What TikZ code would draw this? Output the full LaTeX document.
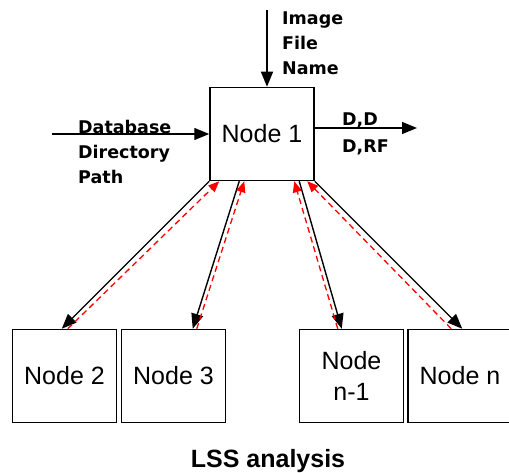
\documentclass[tikz,border=0pt]{standalone}
\usepackage{fontspec}
\setmainfont{Liberation Sans}
\newfontfamily\lblfont{DejaVu Sans}
\usetikzlibrary{arrows.meta}
\begin{document}
\begin{tikzpicture}[x=1pt,y=-1pt,
  box/.style={draw,line width=1.5pt,inner sep=0pt,minimum width=104pt,minimum height=93pt,
    font=\fontsize{25}{31}\selectfont,align=center},
  link/.style={line width=1.4pt,-{Triangle[length=15pt,width=12pt]}},
  back/.style={red,line width=1.3pt,dashed,dash pattern=on 6pt off 4pt,
    -{Triangle[length=11pt,width=9pt]}},
  lbl/.style={font=\lblfont\bfseries\fontsize{17.5}{25}\selectfont,align=left,inner sep=0pt,anchor=west}]
  \useasboundingbox (0,0) rectangle (509,473);

  % main node and the worker nodes
  \node[box] (n1) at (262,134) {Node 1};
  \node[box] (n2) at (64.5,376) {Node 2};
  \node[box] (n3) at (173.5,376) {Node 3};
  \node[box] (nm) at (351.5,376) {Node\\n-1};
  \node[box] (nn) at (460,376) {Node n};

  % inputs and output of node 1
  \coordinate (imgsrc) at (267,10);
  \coordinate (dbsrc) at (52,134);
  \coordinate (outdst) at (417,128);
  \draw[link] (imgsrc) -- ([xshift=5pt]n1.north);
  \draw[link] (dbsrc) -- (n1.west);
  \draw[link] ([yshift=6pt]n1.east) -- (outdst);

  \node[lbl] (imglbl) at (282,43) {Image\\File\\Name};
  \node[lbl] (dblbl) at (78,152) {Database\\Directory\\Path};
  \node[lbl,font=\lblfont\bfseries\fontsize{17.5}{27}\selectfont] (outlbl) at (342,133.5) {D,D\\D,RF};

  % requests sent out to the workers
  \draw[link] (n1.south west) -- ([xshift=50pt]n2.north west);
  \draw[link] ([xshift=30pt]n1.south west) -- ([xshift=72pt]n3.north west);
  \draw[link] ([xshift=90pt]n1.south west) -- ([xshift=43pt]nm.north west);
  \draw[link] (n1.south east) -- ([xshift=55pt]nn.north west);

  % results returned to node 1
  \draw[back] ([xshift=56pt]n2.north west) -- ([xshift=10pt]n1.south west);
  \draw[back] ([xshift=76pt]n3.north west) -- ([xshift=35pt]n1.south west);
  \draw[back] ([xshift=39pt]nm.north west) -- ([xshift=85pt]n1.south west);
  \draw[back] ([xshift=44pt]nn.north west) -- ([xshift=98pt]n1.south west);

  \node[font=\bfseries\fontsize{25}{30}\selectfont,anchor=base] (cap) at (268,467) {LSS analysis};
\end{tikzpicture}
\end{document}
